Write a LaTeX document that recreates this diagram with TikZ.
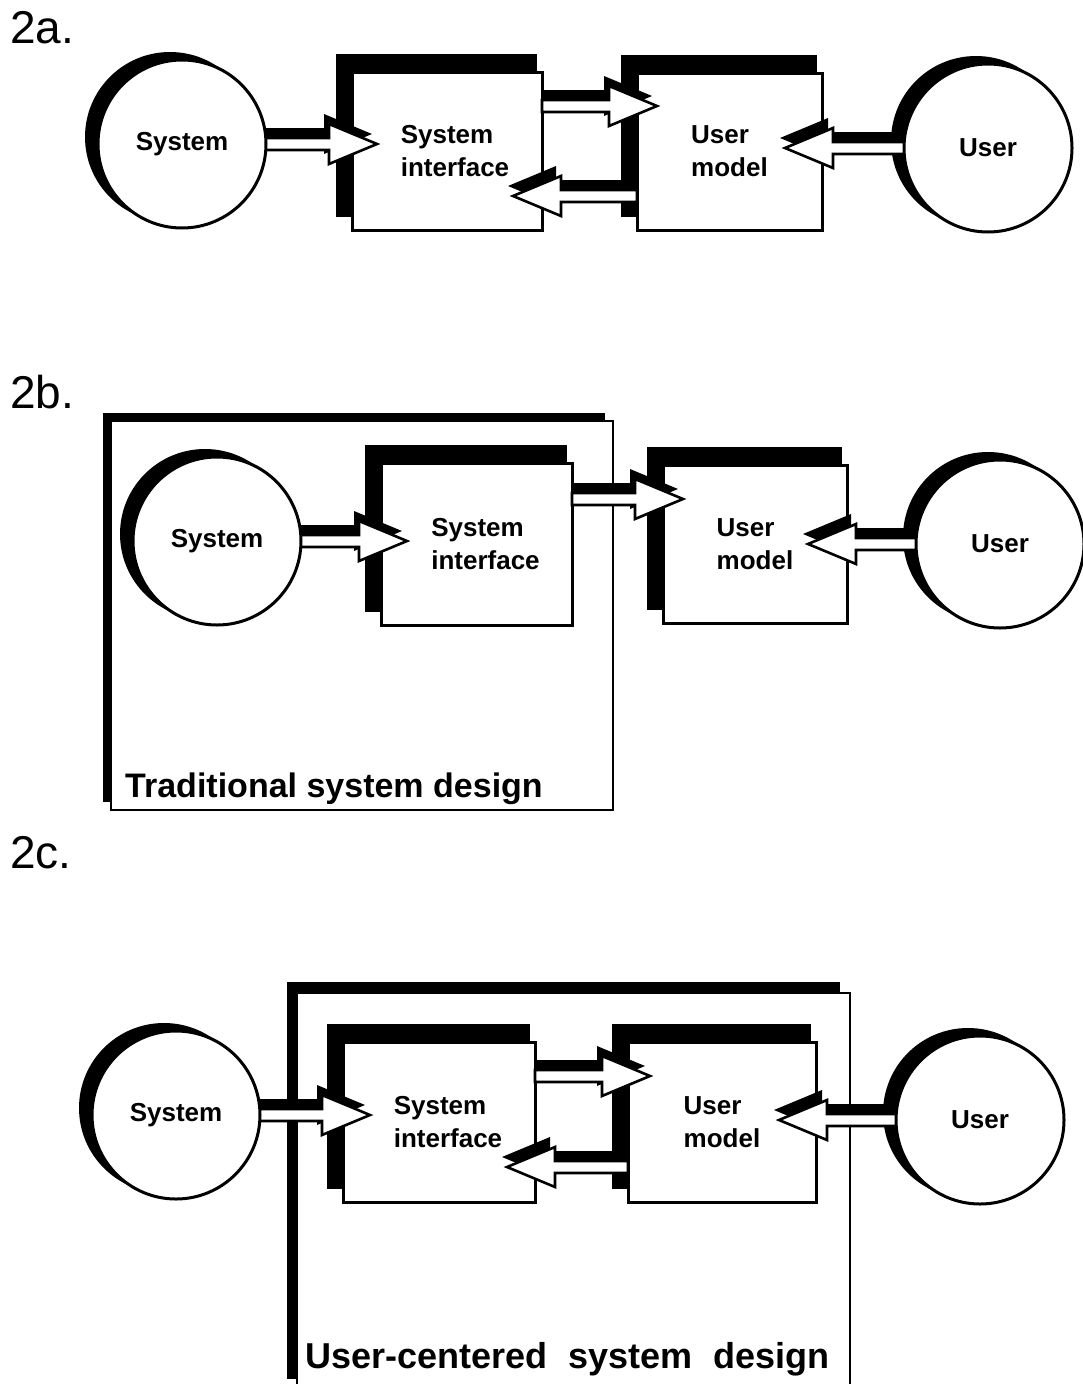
\documentclass[tikz,border=0pt]{standalone}
\usepackage{fontspec}
\setmainfont{Liberation Sans}
\usetikzlibrary{calc,shadows}
\pgfdeclarelayer{framebg}
\pgfdeclarelayer{shadowl}
\pgfdeclarelayer{arrowl}
\pgfdeclarelayer{circl}
\pgfsetlayers{framebg,shadowl,main,arrowl,circl}
\tikzset{
  lbl/.style={font=\fontsize{26}{33}\selectfont\bfseries},
  sbox/.style={draw=black, fill=white, line width=3pt, inner sep=0pt, outer sep=0pt, lbl, align=left},
  disc/.style={circle, draw=black, fill=white, line width=3pt, inner sep=0pt, outer sep=0pt, minimum size=168pt, lbl},
  outerframe/.style={draw=black, fill=white, line width=2.5pt, inner sep=0pt, outer sep=0pt},
  figlabel/.style={font=\fontsize{46}{50}\selectfont, anchor=base west, inner sep=0pt},
  framelabel/.style={font=\fontsize{34}{40}\selectfont\bfseries, anchor=base west, inner sep=0pt},
  shadowfill/.style={fill=black},
  arrowbody/.style={draw=black, fill=white, line width=2.6pt, line join=miter},
}
\newcommand\hollowarrow[2]{%
  \path[shadowfill] let \p1=(#1), \p2=(#2), \n1={2*(\x2>\x1)-1} in
    (\x1,{\y1+16pt}) -- ({\x2-\n1*48pt-5pt},{\y1+16pt}) -- ({\x2-\n1*48pt-5pt},{\y1+30pt})
    -- ({\x2-5pt},{\y1+10pt}) -- ({\x2-\n1*48pt-5pt},{\y1-10pt}) -- ({\x2-\n1*48pt-5pt},{\y1+4pt})
    -- (\x1,{\y1+4pt}) -- cycle;
  \path[arrowbody] let \p1=(#1), \p2=(#2), \n1={2*(\x2>\x1)-1} in
    (\x1,{\y1+6pt}) -- ({\x2-\n1*48pt},{\y1+6pt}) -- ({\x2-\n1*48pt},{\y1+20pt})
    -- (\x2,\y1) -- ({\x2-\n1*48pt},{\y1-20pt}) -- ({\x2-\n1*48pt},{\y1-6pt})
    -- (\x1,{\y1-6pt}) -- cycle;
}
\begin{document}
\begin{tikzpicture}[x=1pt,y=-1pt]
\useasboundingbox (0,0) rectangle (1083,1384);

% figure labels
\node[figlabel] (labA) at (10,43) {2a.};
\node[figlabel] (labB) at (10,408) {2b.};
\node[figlabel] (labC) at (10,868) {2c.};

% frames
\begin{pgfonlayer}{framebg}
\node[outerframe, general shadow={fill=black, shadow xshift=-8pt, shadow yshift=8pt},
      minimum width=502pt, minimum height=389pt] (tradB) at (362,615.5) {};
\node[outerframe, general shadow={fill=black, shadow xshift=-10pt, shadow yshift=11pt},
      minimum width=553pt, minimum height=397pt] (ucC) at (573.5,1191.5) {};
\end{pgfonlayer}
\node[framelabel] (tradlab) at (125,797) {Traditional system design};
\node[framelabel, font=\fontsize{36}{40}\selectfont\bfseries] (uclab) at (305,1368) {User-centered\hspace{21pt}system\hspace{21pt}design};

% boxes
\node[sbox, minimum width=190pt, minimum height=158pt] (siA) at (447,151) {\hspace*{16pt}System\\\hspace*{16pt}interface};
\node[sbox, minimum width=185pt, minimum height=157pt] (umA) at (729.5,151.5) {User\\model};
\node[sbox, minimum width=191pt, minimum height=162pt] (siB) at (476.5,544) {\hspace*{18pt}System\\\hspace*{18pt}interface};
\node[sbox, minimum width=184pt, minimum height=158pt] (umB) at (755,544) {User\\model};
\node[sbox, minimum width=192pt, minimum height=160pt] (siC) at (439,1122) {\hspace*{18pt}System\\\hspace*{18pt}interface};
\node[sbox, minimum width=188pt, minimum height=160pt] (umC) at (722,1122) {User\\model};

% circles
\begin{pgfonlayer}{circl}
\node[disc] (sysA) at (182,144) {System};
\node[disc] (userA) at (988,148) {User};
\node[disc] (sysB) at (217,541) {System};
\node[disc] (userB) at (1000,544) {User};
\node[disc] (sysC) at (176,1115) {System};
\node[disc] (userC) at (980,1120) {User};
\end{pgfonlayer}

% shadows
\begin{pgfonlayer}{shadowl}
\foreach \b in {siA,umA,siB,umB,siC,umC}
  \fill[shadowfill] ($(\b.north west)+(-16,-18)$) rectangle ($(\b.south east)+(-5,-13)$);
\foreach \c in {sysA,userA,sysB,userB,sysC,userC}
  \fill[shadowfill] ($(\c.center)+(-12,-7)$) circle[radius=85pt];
\end{pgfonlayer}

% arrows
\begin{pgfonlayer}{arrowl}
\hollowarrow{$(sysA.east)+(-3,0)$}{$(siA.west)+(25,0)$}
\hollowarrow{$(siA.north east)+(0,34)$}{$(umA.west)+(20,0)$}
\hollowarrow{$(umA.south west)+(0,-34)$}{$(siA.east)+(-29,0)$}
\hollowarrow{$(userA.west)+(3,0)$}{$(umA.east)+(-37,0)$}

\hollowarrow{$(sysB.east)+(-3,0)$}{$(siB.west)+(26,0)$}
\hollowarrow{$(siB.north east)+(0,36)$}{$(umB.west)+(20,0)$}
\hollowarrow{$(userB.west)+(3,0)$}{$(umB.east)+(-39,0)$}

\hollowarrow{$(sysC.east)+(-3,0)$}{$(siC.west)+(27,0)$}
\hollowarrow{$(siC.north east)+(0,34)$}{$(umC.west)+(22,0)$}
\hollowarrow{$(umC.south west)+(0,-35)$}{$(siC.east)+(-28,0)$}
\hollowarrow{$(userC.west)+(3,0)$}{$(umC.east)+(-37,0)$}
\end{pgfonlayer}
\end{tikzpicture}
\end{document}
